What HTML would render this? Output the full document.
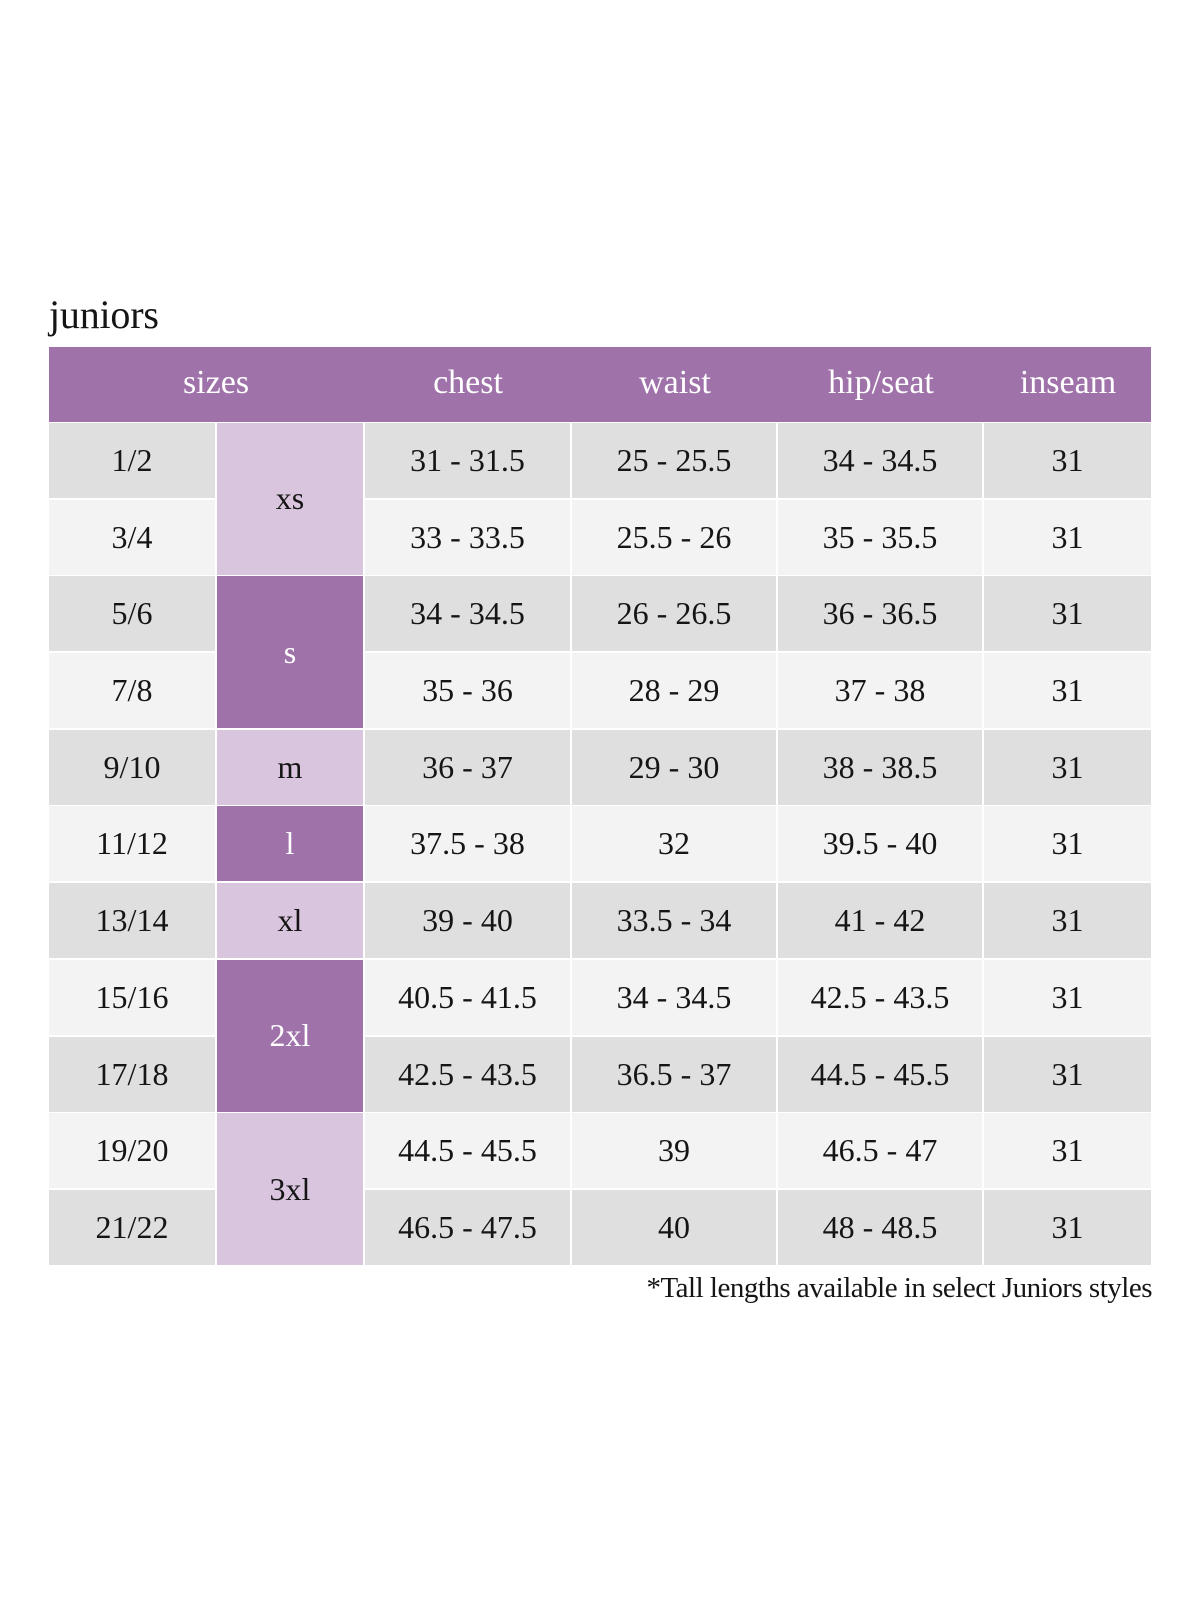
<!DOCTYPE html>
<html>
<head>
<meta charset="utf-8">
<style>
  html, body { margin:0; padding:0; background:#ffffff; }
  body { width:1200px; height:1600px; position:relative; overflow:hidden;
         font-family:"Liberation Serif", "DejaVu Serif", serif; color:#151515; }
  .title { position:absolute; left:49px; top:290px; font-size:40px; line-height:50px; letter-spacing:-0.2px; }
  .hdr { position:absolute; left:49px; top:347px; width:1102px; height:75px; background:#a072aa; }
  .hdr span { position:absolute; top:-2px; height:75px; line-height:75px; transform:translateX(-50%);
              color:#ffffff; font-size:34px; white-space:nowrap; }
  .grid { position:absolute; left:49px; top:423px; width:1102px;
          display:grid; grid-template-columns:166px 146px 205px 204px 204px 167px;
          grid-template-rows:repeat(11, 75px); column-gap:2px; row-gap:1.7px; }
  .grid div { display:flex; align-items:center; justify-content:center; font-size:32px; white-space:nowrap; }
  .d { background:#dfdfdf; }
  .l { background:#f3f3f3; }
  .lil { background:#d9c6de; }
  .pur { background:#a072aa; color:#ffffff; }
  .note { position:absolute; right:48px; top:1268px; font-size:29px; line-height:40px; letter-spacing:-0.5px; white-space:nowrap; }
</style>
</head>
<body>
  <div class="title">juniors</div>

  <div class="hdr">
    <span style="left:167px;">sizes</span>
    <span style="left:419px;">chest</span>
    <span style="left:626px;">waist</span>
    <span style="left:832px;">hip/seat</span>
    <span style="left:1019px;">inseam</span>
  </div>

  <div class="grid">
    <!-- row 1 -->
    <div class="d" style="grid-column:1;grid-row:1;">1/2</div>
    <div class="lil" style="grid-column:2;grid-row:1 / span 2;">xs</div>
    <div class="d" style="grid-column:3;grid-row:1;">31 - 31.5</div>
    <div class="d" style="grid-column:4;grid-row:1;">25 - 25.5</div>
    <div class="d" style="grid-column:5;grid-row:1;">34 - 34.5</div>
    <div class="d" style="grid-column:6;grid-row:1;">31</div>
    <!-- row 2 -->
    <div class="l" style="grid-column:1;grid-row:2;">3/4</div>
    <div class="l" style="grid-column:3;grid-row:2;">33 - 33.5</div>
    <div class="l" style="grid-column:4;grid-row:2;">25.5 - 26</div>
    <div class="l" style="grid-column:5;grid-row:2;">35 - 35.5</div>
    <div class="l" style="grid-column:6;grid-row:2;">31</div>
    <!-- row 3 -->
    <div class="d" style="grid-column:1;grid-row:3;">5/6</div>
    <div class="pur" style="grid-column:2;grid-row:3 / span 2;">s</div>
    <div class="d" style="grid-column:3;grid-row:3;">34 - 34.5</div>
    <div class="d" style="grid-column:4;grid-row:3;">26 - 26.5</div>
    <div class="d" style="grid-column:5;grid-row:3;">36 - 36.5</div>
    <div class="d" style="grid-column:6;grid-row:3;">31</div>
    <!-- row 4 -->
    <div class="l" style="grid-column:1;grid-row:4;">7/8</div>
    <div class="l" style="grid-column:3;grid-row:4;">35 - 36</div>
    <div class="l" style="grid-column:4;grid-row:4;">28 - 29</div>
    <div class="l" style="grid-column:5;grid-row:4;">37 - 38</div>
    <div class="l" style="grid-column:6;grid-row:4;">31</div>
    <!-- row 5 -->
    <div class="d" style="grid-column:1;grid-row:5;">9/10</div>
    <div class="lil" style="grid-column:2;grid-row:5;">m</div>
    <div class="d" style="grid-column:3;grid-row:5;">36 - 37</div>
    <div class="d" style="grid-column:4;grid-row:5;">29 - 30</div>
    <div class="d" style="grid-column:5;grid-row:5;">38 - 38.5</div>
    <div class="d" style="grid-column:6;grid-row:5;">31</div>
    <!-- row 6 -->
    <div class="l" style="grid-column:1;grid-row:6;">11/12</div>
    <div class="pur" style="grid-column:2;grid-row:6;">l</div>
    <div class="l" style="grid-column:3;grid-row:6;">37.5 - 38</div>
    <div class="l" style="grid-column:4;grid-row:6;">32</div>
    <div class="l" style="grid-column:5;grid-row:6;">39.5 - 40</div>
    <div class="l" style="grid-column:6;grid-row:6;">31</div>
    <!-- row 7 -->
    <div class="d" style="grid-column:1;grid-row:7;">13/14</div>
    <div class="lil" style="grid-column:2;grid-row:7;">xl</div>
    <div class="d" style="grid-column:3;grid-row:7;">39 - 40</div>
    <div class="d" style="grid-column:4;grid-row:7;">33.5 - 34</div>
    <div class="d" style="grid-column:5;grid-row:7;">41 - 42</div>
    <div class="d" style="grid-column:6;grid-row:7;">31</div>
    <!-- row 8 -->
    <div class="l" style="grid-column:1;grid-row:8;">15/16</div>
    <div class="pur" style="grid-column:2;grid-row:8 / span 2;">2xl</div>
    <div class="l" style="grid-column:3;grid-row:8;">40.5 - 41.5</div>
    <div class="l" style="grid-column:4;grid-row:8;">34 - 34.5</div>
    <div class="l" style="grid-column:5;grid-row:8;">42.5 - 43.5</div>
    <div class="l" style="grid-column:6;grid-row:8;">31</div>
    <!-- row 9 -->
    <div class="d" style="grid-column:1;grid-row:9;">17/18</div>
    <div class="d" style="grid-column:3;grid-row:9;">42.5 - 43.5</div>
    <div class="d" style="grid-column:4;grid-row:9;">36.5 - 37</div>
    <div class="d" style="grid-column:5;grid-row:9;">44.5 - 45.5</div>
    <div class="d" style="grid-column:6;grid-row:9;">31</div>
    <!-- row 10 -->
    <div class="l" style="grid-column:1;grid-row:10;">19/20</div>
    <div class="lil" style="grid-column:2;grid-row:10 / span 2;">3xl</div>
    <div class="l" style="grid-column:3;grid-row:10;">44.5 - 45.5</div>
    <div class="l" style="grid-column:4;grid-row:10;">39</div>
    <div class="l" style="grid-column:5;grid-row:10;">46.5 - 47</div>
    <div class="l" style="grid-column:6;grid-row:10;">31</div>
    <!-- row 11 -->
    <div class="d" style="grid-column:1;grid-row:11;">21/22</div>
    <div class="d" style="grid-column:3;grid-row:11;">46.5 - 47.5</div>
    <div class="d" style="grid-column:4;grid-row:11;">40</div>
    <div class="d" style="grid-column:5;grid-row:11;">48 - 48.5</div>
    <div class="d" style="grid-column:6;grid-row:11;">31</div>
  </div>

  <div class="note">*Tall lengths available in select Juniors styles</div>
</body>
</html>
